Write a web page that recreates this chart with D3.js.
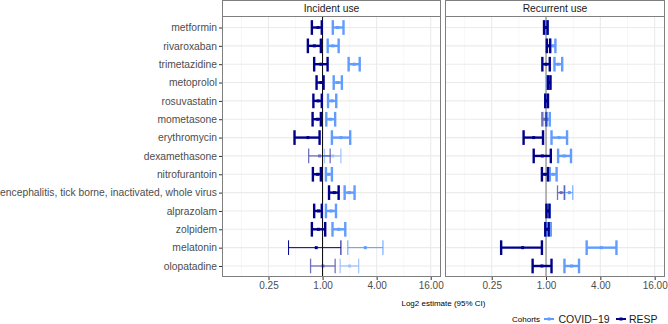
<!DOCTYPE html>
<html><head><meta charset="utf-8">
<script src="https://cdn.jsdelivr.net/npm/d3@7"></script>
<style>
html,body{margin:0;padding:0;background:#fff;}
svg{display:block;font-family:"Liberation Sans",Arial,sans-serif;}
</style></head>
<body><svg id="chart" width="668" height="324"></svg>
<script>
// ---------- data ----------
const drugs = ["metformin","rivaroxaban","trimetazidine","metoprolol","rosuvastatin","mometasone",
  "erythromycin","dexamethasone","nitrofurantoin","encephalitis, tick borne, inactivated, whole virus",
  "alprazolam","zolpidem","melatonin","olopatadine"];
const cohorts = ["COVID-19","RESP"];
const panels = ["Incident use","Recurrent use"];
const xTicks = [0.25, 1, 4, 16];
const xMinor = [0.125, 0.5, 2, 8];

// [estimate, lower, upper]
const incidentCovid = [[1.47,1.30,1.71],[1.30,1.14,1.51],[2.25,1.95,2.59],[1.47,1.33,1.64],[1.27,1.15,1.42],
  [1.22,1.10,1.38],[1.60,1.27,2.03],[1.30,1.05,1.60],[1.17,1.09,1.27],[1.98,1.76,2.27],
  [1.24,1.09,1.41],[1.51,1.29,1.79],[2.99,1.91,4.70],[2.00,1.57,2.52]];
const incidentResp = [[0.89,0.76,0.98],[0.81,0.686,0.957],[0.957,0.806,1.137],[0.957,0.857,1.026],[0.89,0.79,0.98],
  [0.88,0.774,0.957],[0.686,0.487,0.926],[0.926,0.70,1.215],[0.88,0.78,0.957],[1.35,1.18,1.51],
  [0.90,0.806,0.98],[0.90,0.76,1.07],[0.85,0.418,1.60],[1.01,0.735,1.38]];
const recurrentCovid = [[1.00,0.97,1.04],[1.19,1.11,1.27],[1.36,1.24,1.51],[1.08,1.04,1.11],[1.01,0.98,1.05],
  [1.05,1.00,1.10],[1.39,1.15,1.71],[1.59,1.36,1.89],[1.20,1.10,1.31],[1.81,1.62,1.98],
  [1.05,1.02,1.10],[1.06,1.00,1.13],[4.10,2.82,6.03],[1.92,1.60,2.32]];
const recurrentResp = [[0.99,0.95,1.04],[1.06,1.02,1.11],[1.00,0.91,1.10],[1.08,1.05,1.12],[1.02,0.98,1.05],
  [0.96,0.91,1.01],[0.729,0.564,0.926],[0.91,0.73,1.13],[0.97,0.90,1.05],[1.47,1.34,1.59],
  [1.05,1.01,1.09],[1.03,0.98,1.07],[0.55,0.318,0.90],[0.90,0.71,1.15]];
// precision class of each estimate: "A" high, "B" wide, "C" low, "D" moderate
const incidentCovidClass  = ["A","A","A","A","A","A","A","C","A","A","A","A","B","C"];
const incidentRespClass   = ["A","A","A","A","A","A","A","C","A","A","A","A","B","C"];
const recurrentCovidClass = ["A","A","A","A","A","A","A","A","A","B","A","A","A","A"];
const recurrentRespClass  = ["A","A","A","A","A","D","A","A","A","C","A","A","A","A"];

const series = [
  {panel:0, cohort:"COVID-19", vals:incidentCovid, cls:incidentCovidClass},
  {panel:1, cohort:"COVID-19", vals:recurrentCovid, cls:recurrentCovidClass},
  {panel:0, cohort:"RESP", vals:incidentResp, cls:incidentRespClass},
  {panel:1, cohort:"RESP", vals:recurrentResp, cls:recurrentRespClass}
];

// ---------- layout ----------
const svg = d3.select("#chart");
const panelX = [[222,441],[445,665]];
const stripTop = 0.5, panelTop = 16.5, panelBottom = 277;
const color = d3.scaleOrdinal().domain(cohorts).range(["#619CFF","#00008B"]);
const widthScale = d3.scaleOrdinal().domain(["A","B","C","D"]).range([2.4,1,1.3,2.4]);
const alphaScale = d3.scaleOrdinal().domain(["A","B","C","D"]).range([1,1,0.55,0.55]);
const y = d3.scalePoint().domain(drugs).range([panelTop, panelBottom]).padding(0.6);
const xs = panelX.map(r => d3.scaleLog().base(2).domain([Math.pow(2,-3.72), Math.pow(2,4.38)]).range(r));
const capH = y.step()*0.8;
const textCol = "#4d4d4d";

panels.forEach((p,i) => {
  const x = xs[i];
  const [x0,x1] = panelX[i];
  const g = svg.append("g");
  g.append("rect").attr("x",x0).attr("y",panelTop).attr("width",x1-x0).attr("height",panelBottom-panelTop).attr("fill","#fff");
  g.selectAll(".minor").data(xMinor).join("line")
    .attr("x1",d=>x(d)).attr("x2",d=>x(d)).attr("y1",panelTop).attr("y2",panelBottom)
    .attr("stroke","#f2f2f2").attr("stroke-width",0.6);
  g.selectAll(".majx").data(xTicks).join("line")
    .attr("x1",d=>x(d)).attr("x2",d=>x(d)).attr("y1",panelTop).attr("y2",panelBottom)
    .attr("stroke","#ebebeb").attr("stroke-width",1.1);
  g.selectAll(".majy").data(drugs).join("line")
    .attr("x1",x0).attr("x2",x1).attr("y1",d=>y(d)).attr("y2",d=>y(d))
    .attr("stroke","#ebebeb").attr("stroke-width",1.1);
  g.append("line").attr("x1",x(1)).attr("x2",x(1)).attr("y1",panelTop).attr("y2",panelBottom)
    .attr("stroke", i===0 ? "#000" : "#777").attr("stroke-width",1);
  svg.append("rect").attr("x",x0+0.5).attr("y",stripTop).attr("width",x1-x0-1).attr("height",panelTop-stripTop)
    .attr("fill","#fff").attr("stroke","#7f7f7f").attr("stroke-width",1);
  svg.append("text").attr("x",(x0+x1)/2).attr("y",12).attr("text-anchor","middle")
    .attr("font-size",10.3).attr("fill","#1a1a1a").text(p);
  const ax = svg.append("g").attr("transform",`translate(0,${panelBottom})`)
    .call(d3.axisBottom(x).tickValues(xTicks).tickFormat(d3.format(".2f")).tickSize(3).tickPadding(2));
  ax.select(".domain").remove();
  ax.selectAll("line").attr("stroke","#333");
  ax.selectAll("text").attr("font-size",10).attr("fill",textCol).attr("font-family","Liberation Sans, Arial, sans-serif");
});

// error bars
series.forEach(s => {
  const x = xs[s.panel];
  const [x0,x1] = panelX[s.panel];
  const g = svg.append("g");
  s.vals.forEach((v,j) => {
    const yy = y(drugs[j]);
    const c = color(s.cohort), w = widthScale(s.cls[j]), a = alphaScale(s.cls[j]);
    const bg = g.append("g").attr("opacity",a);
    const lo = Math.max(x(v[1]),x0), hi = Math.min(x(v[2]),x1);
    bg.append("line").attr("x1",lo).attr("x2",hi).attr("y1",yy).attr("y2",yy).attr("stroke",c).attr("stroke-width",w);
    [v[1],v[2]].forEach(e => {
      bg.append("line").attr("x1",x(e)).attr("x2",x(e)).attr("y1",yy-capH/2).attr("y2",yy+capH/2)
        .attr("stroke",c).attr("stroke-width",w);
    });
    bg.append("rect").attr("x",x(v[0])-1.5).attr("y",yy-1.5).attr("width",3).attr("height",3).attr("fill",c);
  });
});

// panel borders
panelX.forEach(([x0,x1]) => {
  svg.append("rect").attr("x",x0+0.5).attr("y",panelTop).attr("width",x1-x0-1).attr("height",panelBottom-panelTop-0.5)
    .attr("fill","none").attr("stroke","#7f7f7f").attr("stroke-width",1);
});

// y axis
const ay = svg.append("g").attr("transform",`translate(${panelX[0][0]},0)`)
  .call(d3.axisLeft(y).tickSize(3).tickPadding(2));
ay.select(".domain").remove();
ay.selectAll("line").attr("stroke","#333");
ay.selectAll("text").attr("font-size",10.3).attr("fill",textCol).attr("font-family","Liberation Sans, Arial, sans-serif");

// axis title
svg.append("text").attr("x",(panelX[0][0]+panelX[1][1])/2).attr("y",306).attr("text-anchor","middle")
  .attr("font-size",8).attr("fill","#000").text("Log2 estimate (95% CI)");

// legend
const lg = svg.append("g");
lg.append("text").attr("x",512).attr("y",322).attr("font-size",8).attr("fill","#000").text("Cohorts");
const legendItems = [{c:"COVID-19",x:544,tx:558.5,label:"COVID\u221219"},{c:"RESP",x:616,tx:629,label:"RESP"}];
legendItems.forEach(it => {
  lg.append("line").attr("x1",it.x).attr("x2",it.x+10).attr("y1",319).attr("y2",319)
    .attr("stroke",color(it.c)).attr("stroke-width",2);
  lg.append("rect").attr("x",it.x+3.5).attr("y",317.5).attr("width",3).attr("height",3).attr("fill",color(it.c));
  lg.append("text").attr("x",it.tx).attr("y",323).attr("font-size",10.5).attr("fill","#1a1a1a").text(it.label);
});
</script></body></html>
